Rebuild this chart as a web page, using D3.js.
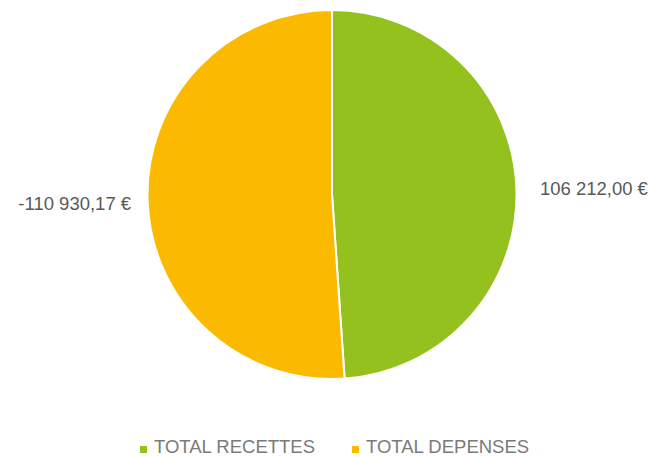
<!DOCTYPE html>
<html>
<head>
<meta charset="utf-8">
<script src="https://cdn.jsdelivr.net/npm/d3@7"></script>
<style>
  body { margin: 0; background: #fff; }
  text { font-family: "Liberation Sans", Arial, sans-serif; fill: #595959; }
  .legend text { fill: #7a7a7a; }
</style>
</head>
<body>
<svg id="chart" width="653" height="457"></svg>
<script>
// data
const categories = ["TOTAL RECETTES", "TOTAL DEPENSES"];
const values = [106212.00, -110930.17];
const valueLabels = ["106 212,00 €", "-110 930,17 €"];
const colors = ["#95C11F", "#FBBA00"];

const svg = d3.select("#chart");
const cx = 332, cy = 194.5, radius = 184.5;

const data = categories.map((c, i) => ({ name: c, value: values[i], label: valueLabels[i], color: colors[i] }));

const pie = d3.pie()
    .sort(null)
    .value(d => Math.abs(d.value));

const arc = d3.arc()
    .innerRadius(0)
    .outerRadius(radius);

const g = svg.append("g")
    .attr("transform", "translate(" + cx + "," + cy + ")");

const arcs = pie(data);

g.selectAll("path")
    .data(arcs)
    .enter()
    .append("path")
    .attr("d", arc)
    .attr("fill", d => d.data.color)
    .attr("stroke", "#fff")
    .attr("stroke-width", 2);

// value labels, outside each slice
const midAngle = d => (d.startAngle + d.endAngle) / 2;
g.selectAll(".lbl")
    .data(arcs)
    .enter()
    .append("text")
    .attr("class", "lbl")
    .attr("font-size", 18.5)
    .attr("text-anchor", d => midAngle(d) < Math.PI ? "start" : "end")
    .attr("x", d => Math.sin(midAngle(d)) * (radius + (midAngle(d) < Math.PI ? 23.5 : 16.5)))
    .attr("y", d => midAngle(d) < Math.PI ? 0.5 : 15.5)
    .text(d => d.data.label);

// legend
const legend = svg.append("g").attr("class", "legend").attr("transform", "translate(0,453)");
const legendX = [140, 352];
const items = legend.selectAll("g")
    .data(data)
    .enter()
    .append("g")
    .attr("transform", (d, i) => "translate(" + legendX[i] + ",0)");

items.append("rect")
    .attr("x", 0)
    .attr("y", -7)
    .attr("width", 7)
    .attr("height", 7)
    .attr("fill", d => d.color);

items.append("text")
    .attr("x", 14)
    .attr("y", 0)
    .attr("font-size", 18.5)
    .text(d => d.name);
</script>
</body>
</html>
